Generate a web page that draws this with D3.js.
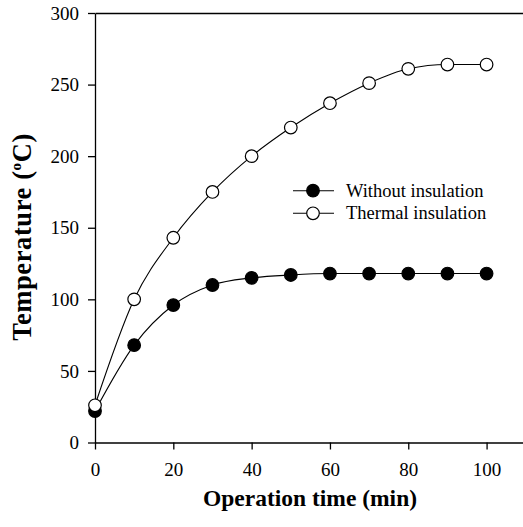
<!DOCTYPE html>
<html>
<head>
<meta charset="utf-8">
<script src="https://cdn.jsdelivr.net/npm/d3@7"></script>
<style>
  body { margin: 0; background: #fff; }
  svg { display: block; }
  svg text { font-family: "Liberation Serif", "Times New Roman", serif; }
</style>
</head>
<body>
<div id="chart"></div>
<script>
// data
const times = [0, 10, 20, 30, 40, 50, 60, 70, 80, 90, 100];
const withoutInsulation = [22, 68, 96, 110, 115, 117, 118, 118, 118, 118, 118];
const thermalInsulation = [26, 100, 143, 175, 200, 220, 237, 251, 261, 264, 264];
const xTicks = [0, 20, 40, 60, 80, 100];
const yTicks = [0, 50, 100, 150, 200, 250, 300];
const seriesNames = ["Without insulation", "Thermal insulation"];

const W = 523, H = 527;
const serif = "Liberation Serif, Times New Roman, serif";
const svg = d3.select("#chart").append("svg")
    .attr("width", W)
    .attr("height", H);

// scales
const x = d3.scaleLinear().domain([0, 109.3]).range([95, 523]);
const y = d3.scaleLinear().domain([0, 300]).range([442.5, 13]);

// y axis
svg.append("g")
    .attr("transform", `translate(${x(0)},0)`)
    .call(d3.axisLeft(y).tickValues(yTicks).tickSize(7).tickSizeOuter(0).tickPadding(9))
    .attr("font-family", serif)
    .attr("font-size", 19);

// x axis
svg.append("g")
    .attr("transform", `translate(0,${y(0)})`)
    .call(d3.axisBottom(x).tickValues(xTicks).tickSize(7).tickSizeOuter(0).tickPadding(13))
    .attr("font-family", serif)
    .attr("font-size", 19);

// top frame line
svg.append("g")
    .attr("transform", `translate(0,${y(300)})`)
    .call(d3.axisTop(x).tickValues([]).tickSizeOuter(0));

svg.selectAll(".domain, .tick line")
    .attr("stroke", "#000")
    .attr("stroke-width", 1.3);
svg.selectAll(".tick text")
    .attr("fill", "#000");

// lines
const line = d3.line()
    .x((d, i) => x(times[i]))
    .y(d => y(d))
    .curve(d3.curveMonotoneX);

const series = [
  { name: seriesNames[0], values: withoutInsulation, fill: "#000" },
  { name: seriesNames[1], values: thermalInsulation, fill: "#fff" }
];

series.forEach(s => {
  svg.append("path")
      .datum(s.values)
      .attr("d", line)
      .attr("fill", "none")
      .attr("stroke", "#000")
      .attr("stroke-width", 1.1);
});

// markers drawn after lines so open circles cover them
series.forEach(s => {
  svg.append("g").selectAll("circle")
      .data(s.values)
      .join("circle")
      .attr("cx", (d, i) => x(times[i]))
      .attr("cy", d => y(d))
      .attr("r", 6.3)
      .attr("fill", s.fill)
      .attr("stroke", "#000")
      .attr("stroke-width", 1.2);
});

// legend
const legend = svg.append("g");
series.forEach((s, i) => {
  const ly = 190.7 + i * 22.6;
  legend.append("line")
      .attr("x1", 293).attr("x2", 334)
      .attr("y1", ly).attr("y2", ly)
      .attr("stroke", "#000").attr("stroke-width", 1.1);
  legend.append("circle")
      .attr("cx", 313).attr("cy", ly).attr("r", 6.3)
      .attr("fill", s.fill).attr("stroke", "#000").attr("stroke-width", 1.2);
  legend.append("text")
      .attr("x", 346).attr("y", ly + 6)
      .attr("font-size", 18.5)
      .text(s.name);
});

// axis titles
svg.append("text")
    .attr("x", 310)
    .attr("y", 506)
    .attr("text-anchor", "middle")
    .attr("font-size", 23.5)
    .attr("font-weight", "bold")
    .text("Operation time (min)");

const yTitle = svg.append("text")
    .attr("transform", "translate(31,237) rotate(-90)")
    .attr("text-anchor", "middle")
    .attr("font-size", 26.5)
    .attr("letter-spacing", 0.6)
    .attr("font-weight", "bold");
yTitle.append("tspan").text("Temperature (");
yTitle.append("tspan").attr("font-size", 15).attr("dy", -10).text("o");
yTitle.append("tspan").attr("dy", 10).text("C)");
</script>
</body>
</html>
